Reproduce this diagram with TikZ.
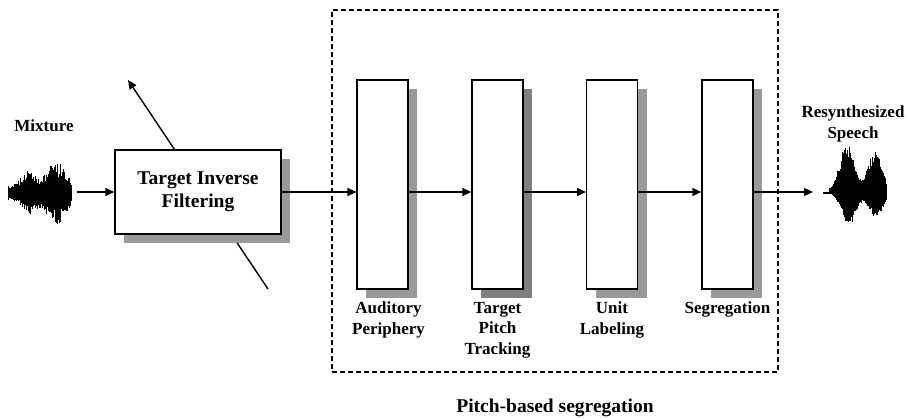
\documentclass[tikz,border=0pt]{standalone}
\usepackage{fontspec}
\setmainfont{Liberation Serif}
\usetikzlibrary{positioning,shadows,arrows.meta}

\begin{document}
\begin{tikzpicture}[x=1pt,y=-1pt,line width=1.2pt,
    arr/.style={-{Triangle[length=9pt,width=8pt]},line width=1.4pt},
    blockbox/.style={draw,fill=white,minimum width=51pt,minimum height=209pt,inner sep=0pt,
      general shadow={fill=#1,shadow xshift=9pt,shadow yshift=-9pt}},
    blockbox/.default=black!40,
    lbl/.style={align=center,inner sep=0pt,font=\fontsize{17}{20.5}\selectfont\bfseries},
    wave/.style={minimum width=64pt,minimum height=62pt,inner sep=0pt}]

  \useasboundingbox (0,0) rectangle (907,419);

  % pitch-based segregation frame
  \node[draw,dash pattern=on 5pt off 3pt,minimum width=446pt,minimum height=362pt,inner sep=0pt] (pbs) at (555,191) {};
  \node[lbl,font=\fontsize{19.5}{22}\selectfont\bfseries,below=26pt of pbs] (pbsl) {Pitch-based segregation};

  % line through the filter
  \coordinate (d1) at (268,289);
  \coordinate (d2) at (128,80);
  \draw[arr] (d1) -- (d2);

  \node[wave,outer sep=5pt] (mix) at (40,192) {};
  \node[lbl] (mixl) at (44,126) {Mixture};

  \node[draw,fill=white,minimum width=166pt,minimum height=84pt,align=center,
    general shadow={fill=black!40,shadow xshift=9pt,shadow yshift=-9pt},
    font=\fontsize{19.5}{23}\selectfont\bfseries] (tif) at (198,192) {Target Inverse\\Filtering};

  \node[blockbox] (ap) at (382.5,184.5) {};
  \node[blockbox=black!50] (tpt) at (497.5,184.5) {};
  \node[blockbox] (ul) at (612,184.5) {};
  \node[blockbox] (seg) at (727.5,184.5) {};

  \node[lbl,below=12pt of ap,xshift=6pt] (apl) {Auditory\\Periphery};
  \node[lbl,below=12pt of tpt] (tptl) {Target\\Pitch\\Tracking};
  \node[lbl,below=12pt of ul] (ull) {Unit\\Labeling};
  \node[lbl,below=12pt of seg] (segl) {Segregation};

  \node[wave,minimum height=76pt,outer sep=10pt] (out) at (855,192) {};
  \node[lbl] (outl) at (853,124) {Resynthesized\\Speech};

  \draw[arr] (mix) -- (tif);
  \draw[arr] (tif.east) -- (tif.east -| ap.west);
  \draw[arr] (ap.east |- tif) -- (tpt.west |- tif);
  \draw[arr] (tpt.east |- tif) -- (ul.west |- tif);
  \draw[arr] (ul.east |- tif) -- (seg.west |- tif);
  \draw[arr] (seg.east |- tif) -- (out.west);

  % waveforms
  \pgfmathsetseed{11}
  \begin{scope}[shift={(mix.center)},line width=0.9pt]
    \foreach \i in {0,...,79} {
      \pgfmathsetmacro{\xx}{-32+0.8*\i}
      \pgfmathsetmacro{\env}{7+15*exp(-min(9,((\xx+12)/9)*((\xx+12)/9)))+23*exp(-min(9,((\xx-16)/14)*((\xx-16)/14)))}
      \pgfmathsetmacro{\up}{\env*(0.5+0.5*rnd)}
      \pgfmathsetmacro{\dn}{\env*(0.6+0.5*rnd)}
      \draw (\xx,-\up) -- (\xx,\dn);
    }
  \end{scope}

  \begin{scope}[shift={(out.center)},line width=0.9pt]
    \draw[line width=1.2pt] (-32,1) -- (-24,1);
    \foreach \i in {0,...,72} {
      \pgfmathsetmacro{\xx}{-26+0.8*\i}
      \pgfmathsetmacro{\up}{(1.5+44*exp(-min(9,((\xx+8)/10)*((\xx+8)/10)))+37*exp(-min(9,((\xx-20)/10)*((\xx-20)/10))))*(0.75+0.3*rnd)}
      \pgfmathsetmacro{\dn}{(1.5+30*exp(-min(9,((\xx+6)/10)*((\xx+6)/10)))+23*exp(-min(9,((\xx-21)/10)*((\xx-21)/10))))*(0.8+0.25*rnd)}
      \draw (\xx,-\up) -- (\xx,\dn);
    }
  \end{scope}

\end{tikzpicture}
\end{document}
